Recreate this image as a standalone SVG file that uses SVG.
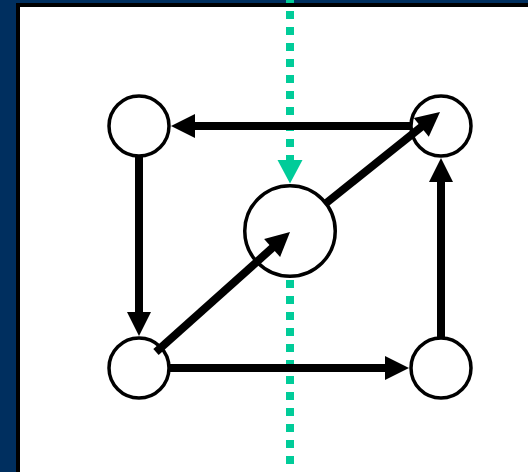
<svg xmlns="http://www.w3.org/2000/svg" width="528" height="472" viewBox="0 0 528 472">
  <style>
    .node { fill: #ffffff; stroke: #000000; stroke-width: 3.5; }
    .shaft { stroke: #000000; stroke-width: 8; fill: none; }
    .head { fill: #000000; stroke: none; }
    .guide { stroke: #00CC99; stroke-width: 8; stroke-dasharray: 8 8; fill: none; }
    .guidehead { fill: #00CC99; stroke: none; }
  </style>
  <rect x="0" y="0" width="528" height="472" fill="#002F5F"/>
  <rect x="18" y="5" width="520" height="480" fill="#ffffff" stroke="#000000" stroke-width="4"/>

  <g id="guide">
    <path class="guide" d="M290,-5 V160"/>
    <polygon class="guidehead" points="277.5,160 302.5,160 290,183.5"/>
    <path class="guide" d="M290,280 V480"/>
  </g>

  <g id="node-center"><circle class="node" cx="290" cy="231" r="45.25"/></g>
  <g id="node-tl"><circle class="node" cx="139" cy="126" r="30"/></g>
  <g id="node-tr"><circle class="node" cx="441" cy="126" r="30"/></g>
  <g id="node-bl"><circle class="node" cx="139" cy="368" r="30"/></g>
  <g id="node-br"><circle class="node" cx="441" cy="368" r="30"/></g>

  <g id="connectors">
    <!-- TR -> TL -->
    <path class="shaft" d="M410,126 H194"/>
    <polygon class="head" points="171,126 195,114 195,138"/>
    <!-- TL -> BL -->
    <path class="shaft" d="M139,157 V313"/>
    <polygon class="head" points="139,336 127,312 151,312"/>
    <!-- BL -> BR -->
    <path class="shaft" d="M170,368 H386"/>
    <polygon class="head" points="409,368 385,356 385,380"/>
    <!-- BR -> TR -->
    <path class="shaft" d="M441,337 V181"/>
    <polygon class="head" points="441,158 429,182 453,182"/>
    <!-- BL -> center -->
    <path class="shaft" d="M156,352 L273,247.3"/>
    <polygon class="head" points="290,232 264.1,239.1 280.1,257"/>
    <!-- center -> TR -->
    <path class="shaft" d="M325,204 L422,126.4"/>
    <polygon class="head" points="440,112 413.8,118 428.8,136.8"/>
  </g>
</svg>
